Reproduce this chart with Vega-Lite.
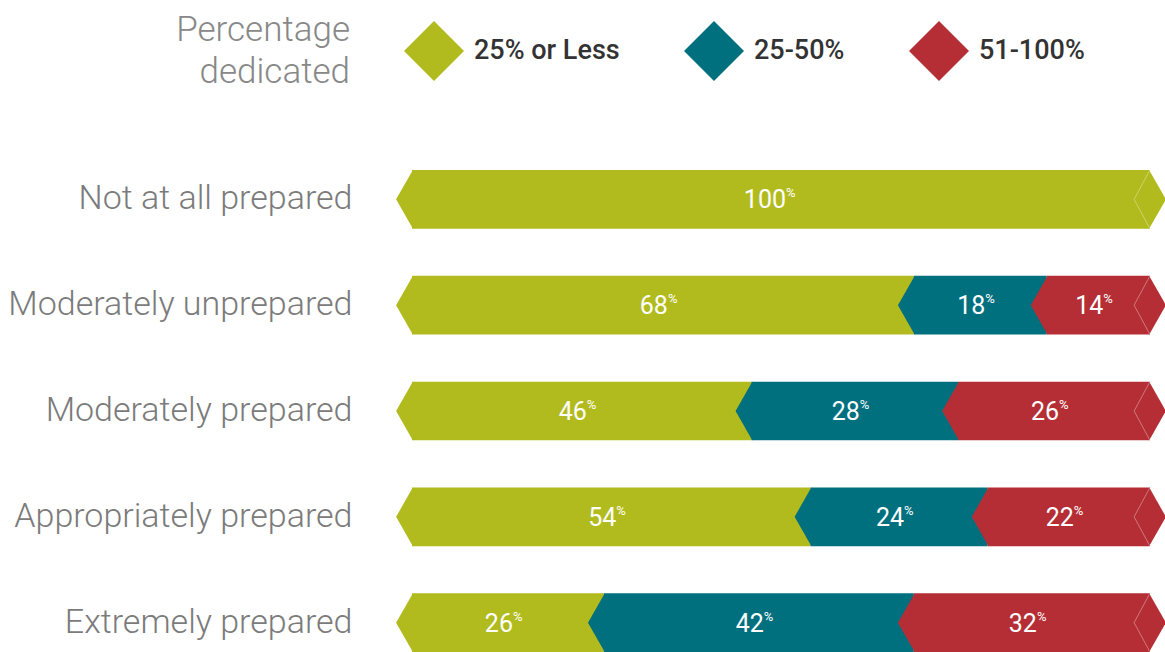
{
  "$schema": "https://vega.github.io/schema/vega-lite/v6.json",
  "width": 738,
  "height": 482,
  "autosize": {"type": "none"},
  "padding": {"left": 412, "top": 170, "right": 15, "bottom": 0},
  "background": "white",
  "config": {"view": {"stroke": null}},
  "data": {"values": [
    {"row": "Not at all prepared", "category": "25% or Less", "value": 100},
    {"row": "Moderately unprepared", "category": "25% or Less", "value": 68},
    {"row": "Moderately unprepared", "category": "25-50%", "value": 18},
    {"row": "Moderately unprepared", "category": "51-100%", "value": 14},
    {"row": "Moderately prepared", "category": "25% or Less", "value": 46},
    {"row": "Moderately prepared", "category": "25-50%", "value": 28},
    {"row": "Moderately prepared", "category": "51-100%", "value": 26},
    {"row": "Appropriately prepared", "category": "25% or Less", "value": 54},
    {"row": "Appropriately prepared", "category": "25-50%", "value": 24},
    {"row": "Appropriately prepared", "category": "51-100%", "value": 22},
    {"row": "Extremely prepared", "category": "25% or Less", "value": 26},
    {"row": "Extremely prepared", "category": "25-50%", "value": 42},
    {"row": "Extremely prepared", "category": "51-100%", "value": 32}
  ]},
  "transform": [
    {"stack": "value", "groupby": ["row"], "sort": [{"field": "category", "order": "ascending"}], "as": ["x0", "x1"]}
  ],
  "encoding": {
    "y": {
      "field": "row", "type": "nominal",
      "sort": ["Not at all prepared", "Moderately unprepared", "Moderately prepared", "Appropriately prepared", "Extremely prepared"],
      "scale": {"paddingInner": 0.445, "paddingOuter": 0},
      "axis": {"title": null, "domain": false, "ticks": false, "labelPadding": 60, "labelFont": "Roboto", "labelFontSize": 34, "labelFontWeight": 300, "labelColor": "#7b7b7b", "labelLimit": 420}
    }
  },
  "layer": [
    {
      "mark": {"type": "bar", "strokeWidth": 0},
      "encoding": {
        "x": {"field": "x0", "type": "quantitative", "scale": {"domain": [0, 100], "nice": false}, "axis": null},
        "x2": {"field": "x1"},
        "color": {
          "field": "category", "type": "nominal",
          "scale": {"domain": ["25% or Less", "25-50%", "51-100%"], "range": ["#b2bb1e", "#00707f", "#b52e35"]},
          "legend": {
            "orient": "none", "legendX": -236, "legendY": -149, "direction": "horizontal",
            "title": ["Percentage", "dedicated"], "titleOrient": "left", "titleFont": "Roboto", "titleFontSize": 35, "titleFontWeight": 300, "titleColor": "#888888", "titleAlign": "right", "titlePadding": -120, "titleLimit": 400, "titleLineHeight": 42,
            "symbolType": "diamond", "symbolSize": 3600, "symbolStrokeWidth": 0, "symbolOpacity": 1,
            "labelFont": "Roboto", "labelFontSize": 27, "labelFontWeight": 500, "labelColor": "#333333", "labelOffset": 10, "columnPadding": 64, "labelLimit": 300
          }
        }
      }
    },
    {
      "mark": {"type": "point", "shape": "M-0.54,0L0.03,-1L0.03,1Z", "filled": true, "size": 3470, "opacity": 1, "strokeWidth": 0},
      "encoding": {
        "x": {"field": "x0", "type": "quantitative"},
        "color": {"field": "category", "type": "nominal"}
      }
    },
    {
      "transform": [{"filter": "datum.x1 > 99.5"}],
      "mark": {"type": "point", "shape": "M-0.03,-1L0.54,0L-0.03,1Z", "filled": true, "size": 3470, "opacity": 1, "strokeWidth": 0},
      "encoding": {
        "x": {"field": "x1", "type": "quantitative"},
        "color": {"field": "category", "type": "nominal"}
      }
    },
    {
      "transform": [{"filter": "datum.x1 > 99.5"}],
      "mark": {"type": "point", "shape": "M0,-1L-0.54,0L0,1", "filled": false, "size": 3470, "color": "#ffffff", "strokeOpacity": 0.45, "strokeWidth": 0.8, "opacity": 1},
      "encoding": {
        "x": {"field": "x1", "type": "quantitative"}
      }
    },
    {
      "transform": [
        {"fold": ["x0", "x1"], "as": ["edge", "pos"]},
        {"aggregate": [{"op": "mean", "field": "pos", "as": "mid"}], "groupby": ["row", "category", "value"]}
      ],
      "layer": [
        {
          "mark": {"type": "text", "align": "right", "baseline": "middle", "dx": 5, "dy": 1, "font": "Roboto", "fontSize": 25, "color": "#ffffff"},
          "encoding": {
            "x": {"field": "mid", "type": "quantitative"},
            "text": {"field": "value", "type": "quantitative"}
          }
        },
        {
          "mark": {"type": "text", "text": "%", "align": "left", "baseline": "middle", "dx": 5, "dy": -6, "font": "Roboto", "fontSize": 13, "color": "#ffffff"},
          "encoding": {
            "x": {"field": "mid", "type": "quantitative"}
          }
        }
      ]
    }
  ]
}
